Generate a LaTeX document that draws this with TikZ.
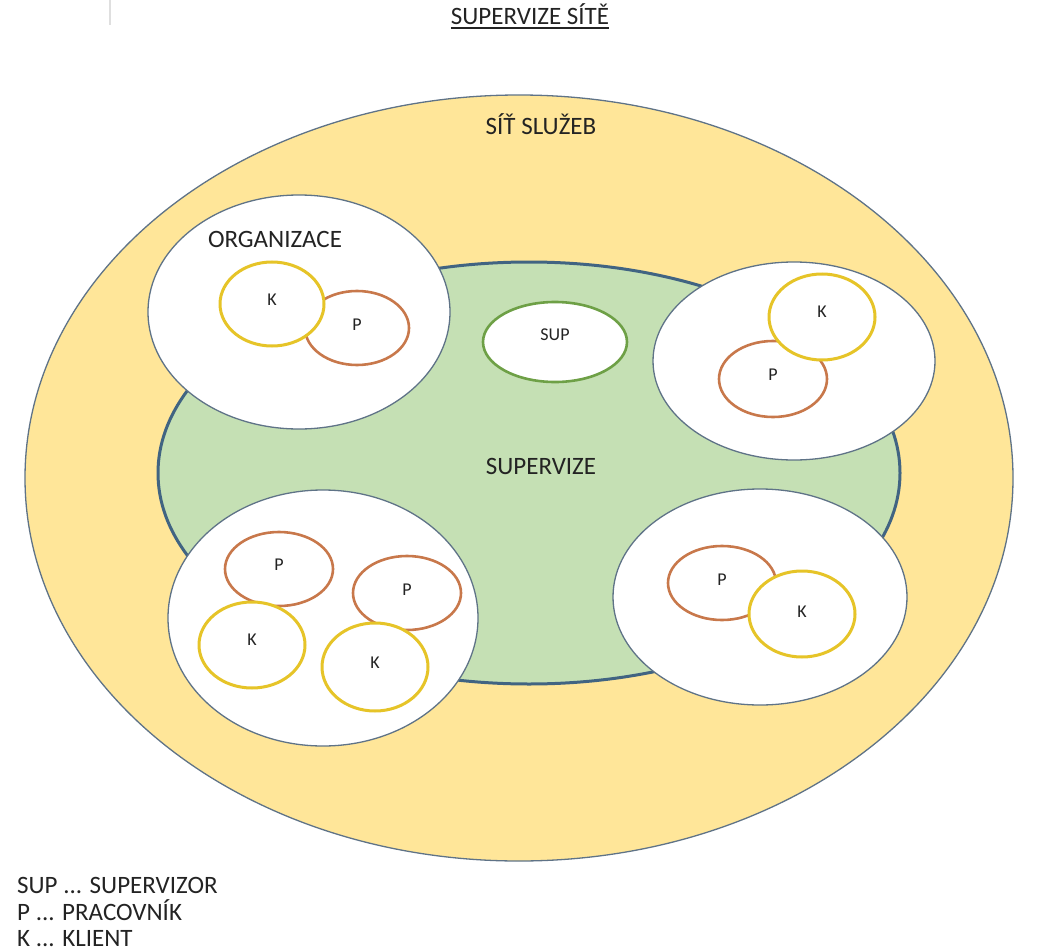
\documentclass[tikz,border=0pt]{standalone}
\usepackage{fontspec}
\setmainfont{Carlito}
\usetikzlibrary{shapes.geometric}
\definecolor{outerfill}{RGB}{255,230,153}
\definecolor{greenfill}{RGB}{197,224,180}
\definecolor{greenline}{RGB}{65,100,130}
\definecolor{thinline}{RGB}{95,115,135}
\definecolor{kring}{RGB}{230,196,40}
\definecolor{pring}{RGB}{200,120,75}
\definecolor{supring}{RGB}{110,160,70}
\definecolor{txt}{RGB}{35,35,35}
\begin{document}
\begin{tikzpicture}[x=1pt,y=-1pt,
  blob/.style={ellipse, inner sep=0pt, outer sep=0pt},
  org/.style={blob, draw=thinline, line width=1.3pt, fill=white},
  kc/.style={blob, draw=kring, line width=3pt, fill=white},
  pc/.style={blob, draw=pring, line width=2.6pt, fill=white},
  small/.style={font=\fontsize{18}{21}\selectfont, text=txt, inner sep=0pt},
  big/.style={font=\fontsize{25}{29}\selectfont, text=txt, inner sep=0pt},
]
\useasboundingbox (0,0) rectangle (1038,952);
% faint mark at top
\coordinate (m1) at (110,0);
\coordinate (m2) at (110,25);
\draw[gray!25, line width=1.5pt] (m1) -- (m2);
% title
\node[big, anchor=base] (title) at (530,25) {SUPERVIZE SÍTĚ};
\draw[txt, line width=2pt] ([yshift=-3.5pt]title.base west) -- ([yshift=-3.5pt]title.base east);
% outer network
\node[blob, draw=thinline, line width=1.3pt, fill=outerfill, minimum width=988pt, minimum height=766pt] (net) at (519,478) {};
\node[big, anchor=base] (netlbl) at (541,135) {SÍŤ SLUŽEB};
% supervision area
\node[blob, draw=greenline, line width=3pt, fill=greenfill, minimum width=742pt, minimum height=422pt] (suparea) at (529,473) {};
\node[big, anchor=base] (suplbl) at (541,474) {SUPERVIZE};
% supervisor
\node[blob, draw=supring, line width=2.6pt, fill=white, minimum width=144pt, minimum height=80pt] (sup) at (555,342) {};
\node[small] (suptxt) at ([yshift=7pt]sup.center) {SUP};
% organisation top-left
\node[org, minimum width=302pt, minimum height=234pt] (o1) at (299,312) {};
\node[big, anchor=base] (orglbl) at (275,247) {ORGANIZACE};
\node[pc, minimum width=104pt, minimum height=74pt] (o1p) at (357,328) {};
\node[kc, minimum width=104pt, minimum height=84pt] (o1k) at (272,304) {};
\node[small] (o1kt) at ([yshift=4pt]o1k.center) {K};
\node[small] (o1pt) at ([yshift=3pt]o1p.center) {P};
% organisation top-right
\node[org, minimum width=282pt, minimum height=198pt] (o2) at (794,361) {};
\node[pc, minimum width=108pt, minimum height=76pt] (o2p) at (773,379) {};
\node[kc, minimum width=106pt, minimum height=86pt] (o2k) at (822,317) {};
\node[small] (o2kt) at ([yshift=5pt]o2k.center) {K};
\node[small] (o2pt) at ([yshift=4pt]o2p.center) {P};
% organisation bottom-left
\node[org, minimum width=310pt, minimum height=256pt] (o3) at (323,618) {};
\node[pc, minimum width=108pt, minimum height=74pt] (o3p1) at (279,569) {};
\node[pc, minimum width=108pt, minimum height=74pt] (o3p2) at (407,593) {};
\node[kc, minimum width=106pt, minimum height=86pt] (o3k1) at (252,645) {};
\node[kc, minimum width=106pt, minimum height=88pt] (o3k2) at (375,667) {};
\node[small] (o3p1t) at ([yshift=4pt]o3p1.center) {P};
\node[small] (o3p2t) at ([yshift=3pt]o3p2.center) {P};
\node[small] (o3k1t) at ([yshift=5pt]o3k1.center) {K};
\node[small] (o3k2t) at ([yshift=4pt]o3k2.center) {K};
% organisation bottom-right
\node[org, minimum width=294pt, minimum height=216pt] (o4) at (760,597) {};
\node[pc, minimum width=108pt, minimum height=74pt] (o4p) at (722,583) {};
\node[kc, minimum width=106pt, minimum height=86pt] (o4k) at (802,614) {};
\node[small] (o4pt) at ([yshift=3pt]o4p.center) {P};
\node[small] (o4kt) at ([yshift=2pt]o4k.center) {K};
% legend
\node[big, anchor=base west] (leg1) at (17,893) {SUP ... SUPERVIZOR};
\node[big, anchor=base west] (leg2) at (17,920) {P ... PRACOVNÍK};
\node[big, anchor=base west] (leg3) at (17,946) {K ... KLIENT};
\end{tikzpicture}
\end{document}
